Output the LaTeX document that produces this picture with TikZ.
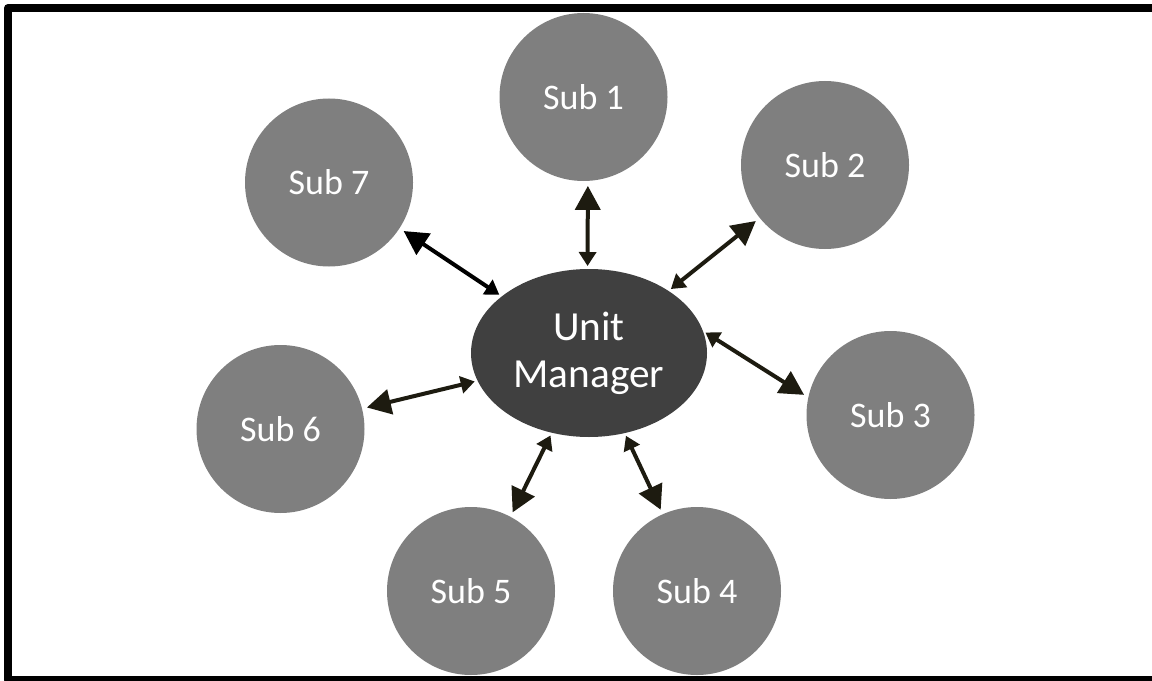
\documentclass[tikz,border=0pt]{standalone}
\usepackage{fontspec}
\setmainfont{Carlito}
\usetikzlibrary{arrows.meta,shapes.geometric}
\newlength\upx
\setlength\upx{0.75pt}
\definecolor{subgray}{HTML}{7F7F7F}
\definecolor{mgrdark}{HTML}{404040}
\definecolor{arrowcol}{HTML}{1D1B10}
\tikzset{
  subnode/.style={circle, fill=subgray, minimum size=126pt, inner sep=0pt, outer sep=0pt,
    text=white, font=\fontsize{27}{32}\selectfont},
  mgrnode/.style={ellipse, fill=mgrdark, minimum width=177pt, minimum height=126pt,
    inner sep=0pt, outer sep=0pt, text=white, align=center,
    font=\fontsize{31}{35}\selectfont},
  link/.style={draw=arrowcol, line width=3pt,
    {Triangle[width=12.75pt,length=10.5pt]}-{Triangle[width=18.75pt,length=18pt]},
    shorten <=2.25pt, shorten >=3.75pt},
}
\begin{document}
\begin{tikzpicture}[x=\upx, y=-\upx]
  \useasboundingbox (0,0) rectangle (1152,681);
  % page frame, right side running off the page
  \begin{scope}
    \clip (0,0) rectangle (1152,681);
    \draw[line width=6pt, line join=round] (8,8) rectangle (1180,680);
  \end{scope}

  % central manager and its subordinate units
  \node[mgrnode] (um) at (589,353) {Unit\\Manager};
  \node[subnode] (s1) at (583.5,97)  {Sub 1};
  \node[subnode] (s2) at (825,165)   {Sub 2};
  \node[subnode] (s3) at (890.5,415) {Sub 3};
  \node[subnode] (s4) at (697,591)   {Sub 4};
  \node[subnode] (s5) at (471,591)   {Sub 5};
  \node[subnode] (s6) at (280.5,429) {Sub 6};
  \node[subnode] (s7) at (329,182.5) {Sub 7};

  % two-way links
  \draw[link] (um.91)     -- (s1.-87.5);
  \draw[link] (um.38.7)   -- (s2.-141.4);
  \draw[link] (um.11.5)   -- (s3.168.2);
  \draw[link] (um.-66)    -- (s4.114.3);
  \draw[link] (um.-115.7) -- (s5.62.9);
  \draw[link] (um.-166.8) -- (s6.14.3);
  \draw[link, draw=black] (um.147.5) -- (s7.-33.2);
\end{tikzpicture}
\end{document}
